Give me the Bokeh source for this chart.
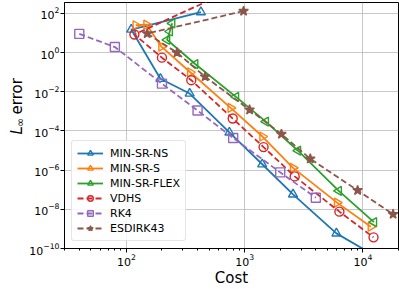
import numpy as np
from bokeh.plotting import figure
from bokeh.layouts import row
from bokeh.models import Range1d, FixedTicker, Legend, LegendItem, LogTickFormatter, Label
from bokeh.embed import file_html
from bokeh.resources import INLINE

# ---- data ----
ns_cost = [427, 110, 194, 343, 743, 1409, 2566, 5970, 11700]
ns_err = [116, 15, 0.046, 8.1e-3, 8.4e-5, 2.0e-6, 5.8e-8, 5.9e-10, 5.6e-11]

s_cost = [120, 148, 198, 347, 762, 1416, 2566, 6050, 11670]
s_err = [24.8, 27, 2.0, 0.099, 1.5e-3, 5.2e-5, 1.3e-6, 2.2e-8, 1.3e-9]

flex_cost = [244, 233, 221, 382, 845, 1511, 2826, 6250, 12400]
flex_err = [31, 11.9, 4.5, 0.26, 5.5e-3, 3.0e-4, 9.8e-6, 8.7e-8, 2.2e-9]

vdhs_cost = [600, 117, 200, 354, 793, 1446, 2650, 6330, 12300]
vdhs_err = [750, 8.4, 0.55, 0.039, 4.3e-4, 1.5e-5, 4.8e-7, 7.6e-9, 3.7e-10]

rk4_cost = [40, 80, 200, 400, 800, 2000, 4000]
rk4_err = [9.0, 1.92, 0.026, 1.1e-3, 4.4e-5, 7.7e-7, 3.9e-8]

esdirk_cost = [980, 150, 268, 463, 1101, 2047, 3590, 9020, 18000]
esdirk_err = [131, 9.4, 0.99, 0.059, 1.2e-3, 6.9e-5, 3.8e-6, 9.3e-8, 5.6e-9]

x_ticks = [1e2, 1e3, 1e4]
x_minor = [m * 10 ** d for d in range(1, 5) for m in range(2, 10)]
y_ticks = [1e-10, 1e-8, 1e-6, 1e-4, 1e-2, 1e0, 1e2]

FONT = "DejaVu Sans"
TOTAL_W, H = 399, 289
YL_W = 26                      # strip holding the y-axis title
W = TOTAL_W - YL_W
BL, BR, BT, BB = 36, 1, 2, 37

# ---- y-axis title strip (coordinates = pixels, origin bottom-left) ----
yl = figure(width=YL_W, height=H, output_backend="svg", toolbar_location=None,
            x_range=Range1d(0, YL_W), y_range=Range1d(0, H),
            x_axis_location=None, y_axis_location=None,
            min_border_left=0, min_border_right=0, min_border_top=0, min_border_bottom=0)
yl.outline_line_color = None
yl.xgrid.visible = False
yl.ygrid.visible = False
yl.background_fill_color = "white"
yl.border_fill_color = "white"

cx = 16.5          # centre line of the title (px)
ys = H - 155       # start of title (px from bottom), reads upward
common = dict(angle=np.pi / 2, text_font=FONT, text_color="black",
              text_align="left", text_baseline="middle")
yl.add_layout(Label(x=cx, y=ys, text="L", text_font_size="15px",
                    text_font_style="italic", **common))
yl.add_layout(Label(x=cx + 3, y=ys + 8.8, text="∞", text_font_size="11px", **common))
yl.add_layout(Label(x=cx, y=ys + 23.5, text="error", text_font_size="15px", **common))

# ---- main plot ----
p = figure(width=W, height=H, x_axis_type="log", y_axis_type="log",
           output_backend="svg", toolbar_location=None,
           x_range=Range1d(30, 20000), y_range=Range1d(1e-10, 360),
           min_border_left=BL, min_border_right=BR, min_border_top=BT,
           min_border_bottom=BB)

p.outline_line_color = "black"
p.outline_line_width = 1
p.background_fill_color = "white"
p.border_fill_color = "white"

p.xaxis.ticker = FixedTicker(ticks=x_ticks, minor_ticks=x_minor)
p.yaxis.ticker = FixedTicker(ticks=y_ticks, minor_ticks=[])
p.xaxis.formatter = LogTickFormatter()
p.yaxis.formatter = LogTickFormatter()

for ax in (p.xaxis, p.yaxis):
    ax.major_label_text_font = FONT
    ax.major_label_text_font_size = "11px"
    ax.major_label_text_color = "black"
    ax.major_tick_out = 4
    ax.major_tick_in = 0
    ax.minor_tick_out = 2
    ax.minor_tick_in = 0
    ax.major_label_standoff = 1
    ax.axis_line_color = "black"

p.xaxis.axis_label = "Cost"
p.xaxis.axis_label_text_font = FONT
p.xaxis.axis_label_text_font_size = "15px"
p.xaxis.axis_label_text_font_style = "normal"
p.xaxis.axis_label_text_color = "black"
p.xaxis.axis_label_standoff = 0

p.xgrid.grid_line_color = "#b0b0b0"
p.ygrid.grid_line_color = "#b0b0b0"
p.xgrid.grid_line_alpha = 0.7
p.ygrid.grid_line_alpha = 0.7
p.xgrid.minor_grid_line_color = None
p.ygrid.minor_grid_line_color = None

series = [
    ("MIN-SR-NS", ns_cost, ns_err, "#1f77b4", "solid", "triangle", 0.0, False),
    ("MIN-SR-S", s_cost, s_err, "#ff7f0e", "solid", "triangle", -np.pi / 2, False),
    ("MIN-SR-FLEX", flex_cost, flex_err, "#2ca02c", "solid", "triangle", np.pi / 2, False),
    ("VDHS", vdhs_cost, vdhs_err, "#d62728", "6 3", "circle", 0.0, False),
    ("RK4", rk4_cost, rk4_err, "#9467bd", "6 3", "square", 0.0, False),
    ("ESDIRK43", esdirk_cost, esdirk_err, "#8c564b", "6 3", "star", 0.0, True),
]

items = []
for name, xs, ys_, col, dash, marker, ang, filled in series:
    ln = p.line(xs, ys_, line_color=col, line_width=1.8, line_dash=dash)
    sc = p.scatter(xs, ys_, marker=marker, size=9 if marker != "star" else 10,
                   angle=ang, line_color=col, line_width=1.4,
                   fill_color=col if filled else "white",
                   fill_alpha=1.0 if filled else 0.0)
    items.append(LegendItem(label=name, renderers=[ln, sc]))

legend = Legend(items=items, location="bottom_left")
legend.label_text_font = FONT
legend.label_text_font_size = "11px"
legend.label_text_color = "black"
legend.glyph_width = 26
legend.glyph_height = 14
legend.label_height = 14
legend.spacing = 1
legend.padding = 5
legend.margin = 7
legend.label_standoff = 7
legend.border_line_color = "#cccccc"
legend.border_line_width = 1
legend.background_fill_alpha = 0.85
legend.border_radius = 3
p.add_layout(legend)

layout = row(yl, p, spacing=0)
open("out.html", "w").write(file_html(layout, INLINE))
